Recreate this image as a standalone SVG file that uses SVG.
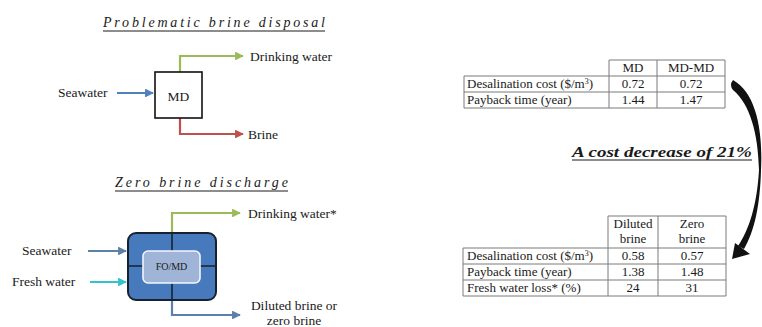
<svg xmlns="http://www.w3.org/2000/svg" width="762" height="327" viewBox="0 0 762 327">
<style>
text{fill:#1a1a1a}
.lbl{font-size:13.5px}
.tt{font-size:13px}
.ttl{font-size:14px;font-style:italic}
.c{text-anchor:middle}
.ln{fill:none;stroke-width:2.2}
.grid{fill:none;stroke:#7a7a7a;stroke-width:1}
</style>
<defs>
<marker id="mg" viewBox="0 0 10 10" refX="9" refY="5" markerWidth="4" markerHeight="4" orient="auto" markerUnits="strokeWidth"><path d="M0,0 L10,5 L0,10 z" fill="#9bbb59"/></marker>
<marker id="mr" viewBox="0 0 10 10" refX="9" refY="5" markerWidth="4" markerHeight="4" orient="auto" markerUnits="strokeWidth"><path d="M0,0 L10,5 L0,10 z" fill="#c0504d"/></marker>
<marker id="mb" viewBox="0 0 10 10" refX="9" refY="5" markerWidth="4" markerHeight="4" orient="auto" markerUnits="strokeWidth"><path d="M0,0 L10,5 L0,10 z" fill="#4f81bd"/></marker>
<marker id="ms" viewBox="0 0 10 10" refX="9" refY="5" markerWidth="4" markerHeight="4" orient="auto" markerUnits="strokeWidth"><path d="M0,0 L10,5 L0,10 z" fill="#5b80aa"/></marker>
<marker id="mc" viewBox="0 0 10 10" refX="9" refY="5" markerWidth="4" markerHeight="4" orient="auto" markerUnits="strokeWidth"><path d="M0,0 L10,5 L0,10 z" fill="#33c3cc"/></marker>
</defs>
<rect width="762" height="327" fill="#ffffff"/>
<g font-family="Liberation Serif, serif">
<g id="title-top">
<text class="ttl" x="103" y="27" textLength="222" lengthAdjust="spacing">Problematic brine disposal</text>
<line x1="103" y1="31" x2="325" y2="31" stroke="#1a1a1a" stroke-width="1"/>
</g>
<g id="title-bottom">
<text class="ttl" x="115" y="187" textLength="173" lengthAdjust="spacing">Zero brine discharge</text>
<line x1="115" y1="191" x2="288" y2="191" stroke="#1a1a1a" stroke-width="1"/>
</g>

<g id="connectors">
<path class="ln" d="M117,93 H153" stroke="#4f81bd" marker-end="url(#mb)"/>
<path class="ln" d="M180,72 V56 H243" stroke="#9bbb59" marker-end="url(#mg)"/>
<path class="ln" d="M180,118 V134 H243" stroke="#c0504d" marker-end="url(#mr)"/>
<path class="ln" d="M88,251 H126" stroke="#5b80aa" marker-end="url(#ms)"/>
<path class="ln" d="M90,282 H126" stroke="#33c3cc" marker-end="url(#mc)"/>
<path class="ln" d="M172,233 V213 H240" stroke="#9bbb59" marker-end="url(#mg)"/>
<path class="ln" d="M172,300 V315 H240" stroke="#5b80aa" marker-end="url(#ms)"/>
<path d="M733,80 C756,93 763,130 761,170 C760,207 754,232 744,249 L738,246 C749,230 757,205 759,170 C758,133 750,104 733,90 Q729,85 733,80 Z" fill="#111"/>
<path d="M732,259 L735,243 L750,254 Z" fill="#111"/>
</g>

<g id="md">
<rect x="155" y="72" width="47" height="46" fill="#fff" stroke="#111" stroke-width="1.6"/>
<text class="lbl c" x="178.5" y="101">MD</text>
</g>
<g id="seawater-top"><text class="lbl" x="58" y="97">Seawater</text></g>
<g id="drinking-top"><text class="lbl" x="250" y="61">Drinking water</text></g>
<g id="brine-top"><text class="lbl" x="248" y="139">Brine</text></g>

<g id="fomd">
<rect x="128" y="233" width="88" height="67" rx="8" fill="#4779bd" stroke="#17222e" stroke-width="2"/>
<line x1="172" y1="233" x2="172" y2="300" stroke="#17222e" stroke-width="1.6"/>
<line x1="128" y1="266" x2="216" y2="266" stroke="#17222e" stroke-width="1.6"/>
<rect x="143" y="251" width="57" height="32" rx="5" fill="#9fb4d6" stroke="#f2f6fb" stroke-width="1.6"/>
<text class="c" x="171.5" y="270" font-size="10">FO/MD</text>
</g>
<g id="seawater-bottom"><text class="lbl" x="22" y="255">Seawater</text></g>
<g id="freshwater"><text class="lbl" x="12" y="286">Fresh water</text></g>
<g id="drinking-bottom"><text class="lbl" x="248" y="218">Drinking water*</text></g>
<g id="diluted">
<text class="lbl c" x="294" y="310">Diluted brine or</text>
<text class="lbl c" x="294" y="325">zero brine</text>
</g>

<g id="table-top">
<path class="grid" d="M609,60 H725 V108 H464 V76 H725 M464,92 H725 M609,60 V108 M657,60 V108"/>
<text class="tt c" x="633" y="72">MD</text>
<text class="tt c" x="691" y="72">MD-MD</text>
<text class="tt" x="467" y="88">Desalination cost ($/m<tspan dy="-4" font-size="8">3</tspan><tspan dy="4">)</tspan></text>
<text class="tt c" x="633" y="88">0.72</text>
<text class="tt c" x="691" y="88">0.72</text>
<text class="tt" x="467" y="104">Payback time (year)</text>
<text class="tt c" x="633" y="104">1.44</text>
<text class="tt c" x="691" y="104">1.47</text>
</g>

<g id="cost-label">
<text x="752" y="157" text-anchor="end" textLength="180" lengthAdjust="spacingAndGlyphs" font-size="15" font-weight="bold" font-style="italic">A cost decrease of 21%</text>
<line x1="572" y1="160" x2="752" y2="160" stroke="#1a1a1a" stroke-width="1"/>
</g>

<g id="table-bottom">
<path class="grid" d="M608,216 H726 V296 H463 V248 H726 M463,264 H726 M463,280 H726 M608,216 V296 M658,216 V296"/>
<text class="tt c" x="633" y="228">Diluted</text>
<text class="tt c" x="633" y="243">brine</text>
<text class="tt c" x="692" y="228">Zero</text>
<text class="tt c" x="692" y="243">brine</text>
<text class="tt" x="467" y="260">Desalination cost ($/m<tspan dy="-4" font-size="8">3</tspan><tspan dy="4">)</tspan></text>
<text class="tt c" x="633" y="260">0.58</text>
<text class="tt c" x="692" y="260">0.57</text>
<text class="tt" x="467" y="276">Payback time (year)</text>
<text class="tt c" x="633" y="276">1.38</text>
<text class="tt c" x="692" y="276">1.48</text>
<text class="tt" x="467" y="292">Fresh water loss* (%)</text>
<text class="tt c" x="633" y="292">24</text>
<text class="tt c" x="692" y="292">31</text>
</g>
</g>
</svg>
